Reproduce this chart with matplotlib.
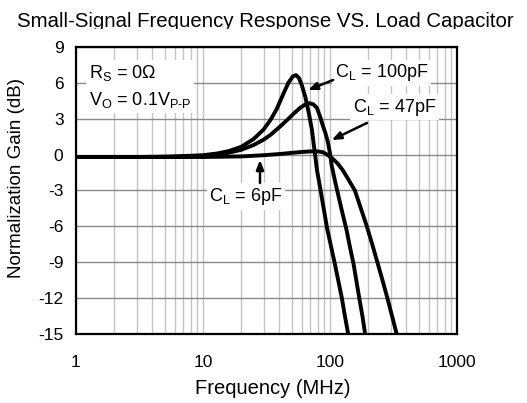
import matplotlib
matplotlib.use("Agg")
import matplotlib.pyplot as plt
from matplotlib.patches import Rectangle
from matplotlib.ticker import LogLocator, FixedLocator, NullFormatter

plt.rcParams["font.family"] = "Liberation Sans"
plt.rcParams["mathtext.fontset"] = "custom"
plt.rcParams["mathtext.rm"] = "Liberation Sans"
plt.rcParams["mathtext.it"] = "Liberation Sans"

# curves: frequency (MHz) and normalized gain (dB)
f100 = [1, 3, 6, 10, 13, 16, 20, 25, 30, 34, 38, 43, 47, 51, 54, 57, 60, 64, 68,
        72, 75, 79, 84, 90, 95, 102, 109, 116, 124, 131, 139]
g100 = [-0.2, -0.2, -0.15, -0.05, 0.1, 0.3, 0.65, 1.3, 2.1, 2.9, 3.8, 5.1, 6.0,
        6.55, 6.65, 6.4, 5.8, 4.8, 3.5, 2.1, 0.6, -1.3, -2.9, -4.75, -6.2, -7.7,
        -9.1, -10.5, -12.0, -13.5, -15.0]

f47 = [1, 5, 10, 15, 20, 25, 30, 34, 40, 46, 52, 58, 64, 69, 74, 79, 84, 88, 92,
       96, 100, 103, 110, 118, 126, 135, 144, 153, 161, 170, 180, 189]
g47 = [-0.2, -0.2, -0.1, 0.1, 0.4, 0.8, 1.25, 1.65, 2.3, 2.9, 3.45, 3.9, 4.2, 4.3,
       4.2, 3.9, 3.1, 2.4, 1.8, 1.1, 0.1, -0.9, -2.3, -3.7, -5.0, -6.3, -7.8,
       -9.1, -10.5, -12.0, -13.5, -15.0]

f6 = [1, 5, 10, 20, 30, 40, 50, 60, 70, 80, 88, 95, 104, 115, 126, 140, 157, 175,
      195, 215, 236, 259, 283, 308, 335]
g6 = [-0.2, -0.2, -0.2, -0.15, -0.05, 0.05, 0.15, 0.22, 0.27, 0.27, 0.2, 0.0, -0.3,
      -0.75, -1.3, -2.1, -3.0, -4.5, -6.0, -7.5, -9.0, -10.5, -12.0, -13.5, -15.0]

yticks = [9, 6, 3, 0, -3, -6, -9, -12, -15]
xticks = [1, 10, 100, 1000]
xlabels = ["1", "10", "100", "1000"]

fig = plt.figure(figsize=(5.27, 4.03), dpi=100, facecolor="white")
ax = fig.add_axes([0.1442, 0.1712, 0.7230, 0.7122])

ax.set_xscale("log")
ax.set_xlim(1, 1000)
ax.set_ylim(-15, 9)
ax.set_xticks(xticks)
ax.set_xticklabels(xlabels)
ax.xaxis.set_minor_locator(LogLocator(base=10, subs=range(2, 10)))
ax.xaxis.set_minor_formatter(NullFormatter())
ax.set_yticks(yticks)
ax.set_yticklabels([str(v) for v in yticks])
ax.tick_params(which="both", length=0)
ax.tick_params(axis="x", pad=15, labelsize=12.5)
ax.tick_params(axis="y", pad=9, labelsize=12.5)

ax.grid(True, which="both", axis="x", color="#c4c4c4", lw=1.0)
ax.grid(True, which="major", axis="y", color="#8a8a8a", lw=1.0)
ax.set_axisbelow(True)
for s in ax.spines.values():
    s.set_linewidth(1.6)
    s.set_color("black")

for f, g in ((f6, g6), (f47, g47), (f100, g100)):
    ax.plot(f, g, color="black", lw=2.8, solid_capstyle="butt", zorder=3)

box = dict(facecolor="white", edgecolor="none", pad=2)
ax.text(1.266, 5.7, "R$_\\mathregular{S}$ = 0Ω\nV$_\\mathregular{O}$ = 0.1V$_\\mathregular{P\\text{-}P}$",
        fontsize=13, ha="left", va="center", linespacing=1.45, bbox=box, zorder=4)

ax.text(109.5, 6.83, "C$_\\mathregular{L}$ = 100pF", fontsize=13, ha="left",
        va="center", bbox=box, zorder=4)
ax.text(151.8, 3.98, "C$_\\mathregular{L}$ = 47pF", fontsize=13, ha="left",
        va="center", bbox=box, zorder=4)
ax.text(21.8, -3.5, "C$_\\mathregular{L}$ = 6pF", fontsize=13, ha="center",
        va="center", bbox=box, zorder=4)

arrow = dict(arrowstyle="-|>,head_length=0.55,head_width=0.22", color="black",
             lw=1.8, shrinkA=0, shrinkB=0)
ax.annotate("", xy=(67.1, 5.4), xytext=(105.8, 6.24), arrowprops=arrow, zorder=5)
ax.annotate("", xy=(103, 1.22), xytext=(195.6, 2.65), arrowprops=arrow, zorder=5)
ax.annotate("", xy=(28.1, -0.45), xytext=(28.1, -2.37), arrowprops=arrow, zorder=5)

title = fig.text(0.503, 0.933, "Small-Signal Frequency Response VS. Load Capacitor",
                 fontsize=14.7, ha="center", va="baseline")
title.set_clip_path(Rectangle((0, 0.929), 1, 0.07, transform=fig.transFigure))

fig.text(0.518, 0.037, "Frequency (MHz)", fontsize=14.5, ha="center", va="center")
fig.text(0.032, 0.558, "Normalization Gain (dB)", fontsize=13.5, ha="center",
         va="center", rotation=90)

fig.savefig("out.png", dpi=100, facecolor="white")
